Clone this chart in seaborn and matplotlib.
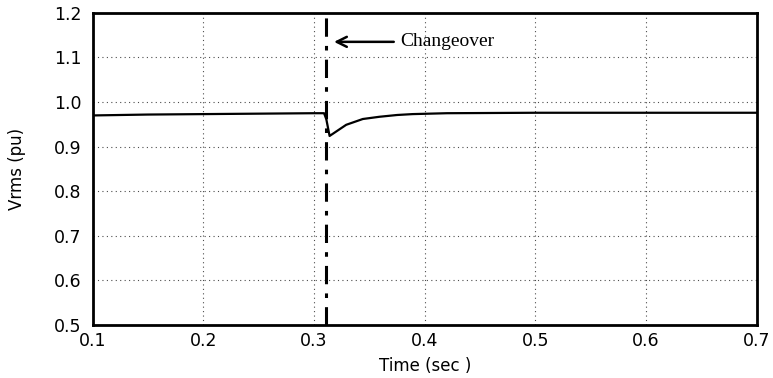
import matplotlib
matplotlib.use("Agg")
import matplotlib.pyplot as plt
import seaborn as sns
import pandas as pd
from matplotlib.ticker import MultipleLocator

# Data
time_s = [0.100, 0.150, 0.200, 0.250, 0.300, 0.309, 0.311, 0.314, 0.320,
          0.329, 0.344, 0.359, 0.375, 0.389, 0.420, 0.500, 0.600, 0.700]
vrms_pu = [0.970, 0.972, 0.973, 0.974, 0.975, 0.975, 0.962, 0.924, 0.934,
           0.949, 0.962, 0.967, 0.971, 0.973, 0.975, 0.976, 0.976, 0.976]
changeover_t = 0.311
x_ticks = [0.1, 0.2, 0.3, 0.4, 0.5, 0.6, 0.7]
y_ticks = [0.5, 0.6, 0.7, 0.8, 0.9, 1.0, 1.1, 1.2]
annotation = "Changeover"

df = pd.DataFrame({"t": time_s, "v": vrms_pu})

sns.set_style("white")
plt.rcParams["font.family"] = ["DejaVu Sans"]

fig = plt.figure(figsize=(7.73, 3.78), dpi=100)
ax = fig.add_axes([0.120, 0.140, 0.859, 0.826])

sns.lineplot(data=df, x="t", y="v", ax=ax, color="black", linewidth=1.6)
ax.axvline(changeover_t, color="black", linestyle=(0, (6, 3, 1.5, 3)), linewidth=2.2)

ax.set_xlim(0.1, 0.7)
ax.set_ylim(0.5, 1.2)
ax.set_xticks(x_ticks)
ax.set_yticks(y_ticks)
ax.set_xticklabels([f"{v:.1f}" for v in x_ticks])
ax.set_yticklabels([f"{v:.1f}" for v in y_ticks])
ax.xaxis.set_minor_locator(MultipleLocator(0.05))
ax.yaxis.set_minor_locator(MultipleLocator(0.05))
ax.tick_params(which="major", direction="in", length=4, width=1, labelsize=12.5, colors="black")
ax.tick_params(which="minor", direction="in", length=2, width=0.8)
ax.tick_params(axis="x", pad=5)
ax.tick_params(axis="y", pad=8)
ax.grid(True, which="major", linestyle=(0, (1, 3)), color="black", linewidth=0.8, alpha=0.7)

for s in ax.spines.values():
    s.set_visible(True)
    s.set_color("black")
    s.set_linewidth(2)

ax.set_xlabel("Time (sec )", fontsize=12, labelpad=5, color="black")
ax.set_ylabel("Vrms (pu)", fontsize=12, labelpad=20, color="black")

ax.annotate("", xy=(0.3155, 1.135), xytext=(0.3745, 1.135),
            arrowprops=dict(arrowstyle="->", color="black", lw=1.8, mutation_scale=18))
ax.text(0.3775, 1.135, annotation, fontsize=14, family="Liberation Serif",
        va="center", ha="left", color="black")

fig.savefig("out.png", dpi=100)
